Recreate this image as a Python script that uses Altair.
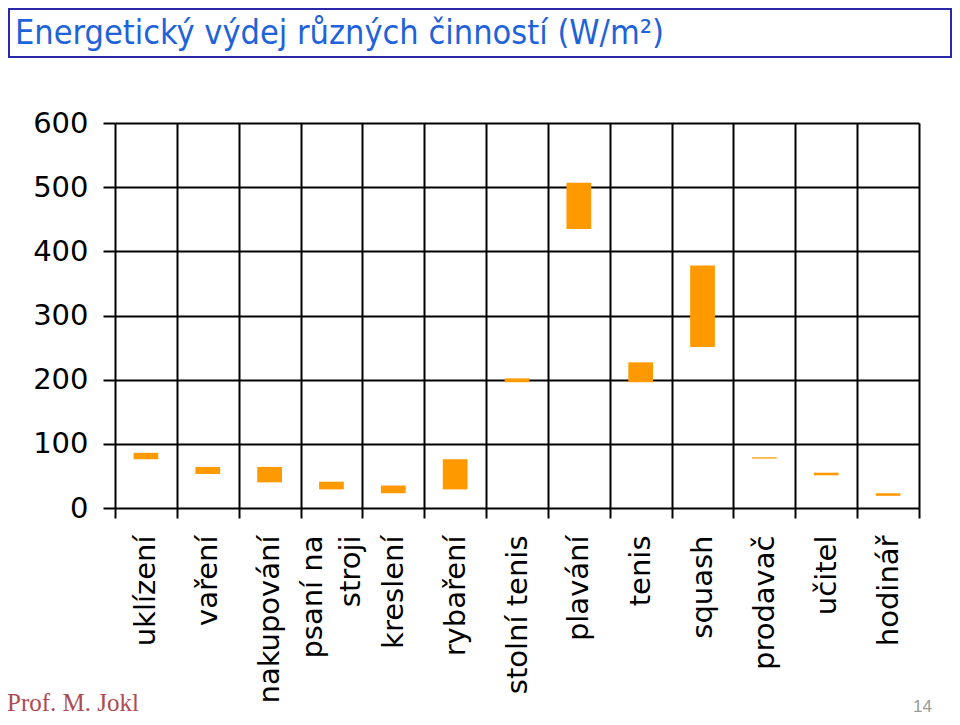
import altair as alt
import pandas as pd

categories = ["uklízení", "vaření", "nakupování", "psaní na|stroji", "kreslení",
              "rybaření", "stolní tenis", "plavání", "tenis", "squash",
              "prodavač", "učitel", "hodinář"]
low = [76, 53, 40, 29, 23, 29, 196, 435, 196, 251, 77, 51, 19]
high = [86, 64, 64, 41, 35, 76, 202, 507, 227, 378, 79, 55, 23]
y_ticks = [0, 100, 200, 300, 400, 500, 600]

title_text = "Energetický výdej různých činností (W/m²)"
author_text = "Prof. M. Jokl"
page_text = "14"

df = pd.DataFrame({"cat": categories, "low": low, "high": high})

label_expr = ("indexof(datum.label, '|') >= 0 ? "
              "[split(datum.label, '|')[0], '\u200b', split(datum.label, '|')[1]] : "
              "['', datum.label]")

bars = alt.Chart(df).mark_bar(color="#FF9900", width=alt.RelativeBandSize(0.4)).encode(
    x=alt.X("cat:N", sort=categories,
            scale=alt.Scale(paddingInner=0, paddingOuter=0),
            axis=alt.Axis(title=None, labelAngle=270, labelAlign="right",
                          labelBaseline="middle", labelFont="DejaVu Sans",
                          labelFontSize=29, labelColor="black", labelPadding=17,
                          labelOffset=-19,
                          tickSize=10, tickColor="black", tickWidth=2,
                          tickBand="extent", grid=True, gridColor="black",
                          gridWidth=2, gridOpacity=1, domain=False,
                          labelExpr=label_expr,
                          labelLineHeight=19, labelLimit=400,
                          labelOverlap=False)),
    y=alt.Y("low:Q", scale=alt.Scale(domain=[0, 600], nice=False),
            axis=alt.Axis(values=y_ticks, title=None, labelFont="DejaVu Sans",
                          labelFontSize=29, labelColor="black", tickSize=12,
                          tickColor="black", tickWidth=2, labelPadding=15,
                          grid=True, gridColor="black", gridWidth=2,
                          gridOpacity=1, domain=False)),
    y2="high:Q",
)

one = pd.DataFrame({"t": [title_text]})
box = alt.Chart(one).mark_rect(fill="white", fillOpacity=0, stroke="#2828A8",
                               strokeWidth=2).encode(
    x=alt.value(-106), x2=alt.value(836), y=alt.value(-114), y2=alt.value(-66))

title = alt.Chart(one).mark_text(align="left", baseline="alphabetic",
                                 font="DejaVu Sans Condensed", fontSize=34,
                                 color="#1E63DA").encode(
    text="t:N", x=alt.value(-100), y=alt.value(-79.5))

author = alt.Chart(pd.DataFrame({"t": [author_text]})).mark_text(
    align="left", baseline="alphabetic", font="Liberation Serif", fontSize=25,
    color="#B04A52").encode(text="t:N", x=alt.value(-108), y=alt.value(588))

page = alt.Chart(pd.DataFrame({"t": [page_text]})).mark_text(
    align="right", baseline="alphabetic", font="Liberation Sans", fontSize=17,
    color="#999999").encode(text="t:N", x=alt.value(817), y=alt.value(589))

chart = alt.layer(box, title, bars, author, page).properties(
    width=804, height=385,
    padding={"left": 107, "top": 115, "right": 33, "bottom": 209},
    autosize="none",
).configure_view(stroke=None)

chart.save("out.html", embed_options={"renderer": "svg", "actions": False})
